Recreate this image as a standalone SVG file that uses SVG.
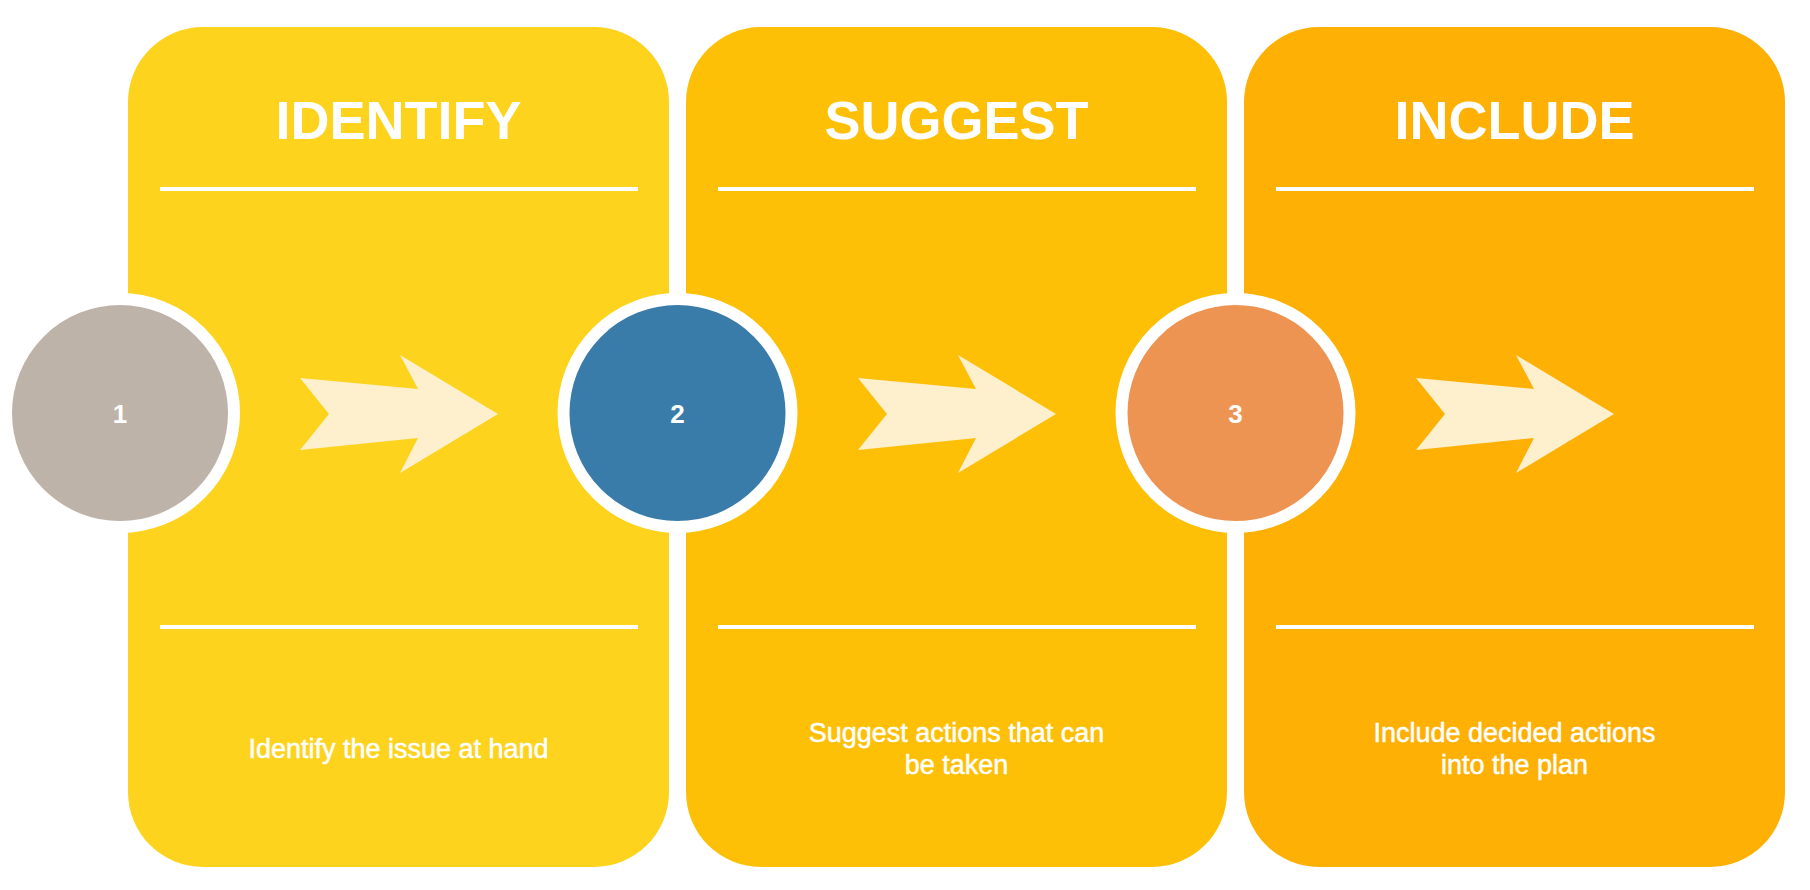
<svg xmlns="http://www.w3.org/2000/svg" width="1810" height="890" viewBox="0 0 1810 890">
<style>
.card{stroke:none}
.rule{stroke:#FFFFFF;stroke-width:4}
.title{font-family:"Liberation Sans",Arial,sans-serif;font-weight:bold;font-size:54px;fill:#FFFFFF;text-anchor:middle}
.body{font-family:"Liberation Sans",Arial,sans-serif;font-size:27px;fill:#FFFFFF;stroke:#FFFFFF;stroke-width:0.5;text-anchor:middle}
.circ{stroke:#FFFFFF;stroke-width:12}
.num{font-family:"Liberation Sans",Arial,sans-serif;font-weight:bold;font-size:26px;fill:#FFFFFF;text-anchor:middle}
.arrow{fill:#FEF0CC}
</style>
<defs>
<path id="chev" d="M300,378 L329,414 L300,450 L418,438 L400,473 L498,414 L400,355 L418,389 Z"/>
</defs>
<rect width="1810" height="890" fill="#FFFFFF"/>
<g id="card-identify">
<rect class="card" x="128" y="27" width="541" height="840" rx="75" ry="75" fill="#FDD31D"/>
<text class="title" x="398.5" y="139">IDENTIFY</text>
<line class="rule" x1="160" y1="189" x2="638" y2="189"/>
<line class="rule" x1="160" y1="627" x2="638" y2="627"/>
<text class="body" x="398.5" y="758">Identify the issue at hand</text>
</g>
<g id="card-suggest">
<rect class="card" x="686" y="27" width="541" height="840" rx="75" ry="75" fill="#FDC007"/>
<text class="title" x="956.5" y="139">SUGGEST</text>
<line class="rule" x1="718" y1="189" x2="1196" y2="189"/>
<line class="rule" x1="718" y1="627" x2="1196" y2="627"/>
<text class="body" x="956.5" y="742">Suggest actions that can</text>
<text class="body" x="956.5" y="774">be taken</text>
</g>
<g id="card-include">
<rect class="card" x="1244" y="27" width="541" height="840" rx="75" ry="75" fill="#FEB004"/>
<text class="title" x="1514.5" y="139">INCLUDE</text>
<line class="rule" x1="1276" y1="189" x2="1754" y2="189"/>
<line class="rule" x1="1276" y1="627" x2="1754" y2="627"/>
<text class="body" x="1514.5" y="742">Include decided actions</text>
<text class="body" x="1514.5" y="774">into the plan</text>
</g>
<g id="connectors">
<use href="#chev" class="arrow"/>
<use href="#chev" class="arrow" transform="translate(558,0)"/>
<use href="#chev" class="arrow" transform="translate(1116,0)"/>
</g>
<g id="step-1">
<circle class="circ" cx="120" cy="413" r="114" fill="#BDB3A9"/>
<text class="num" x="120" y="423">1</text>
</g>
<g id="step-2">
<circle class="circ" cx="677.5" cy="413" r="114" fill="#3A7CA9"/>
<text class="num" x="677.5" y="423">2</text>
</g>
<g id="step-3">
<circle class="circ" cx="1235.5" cy="413" r="114" fill="#EE9453"/>
<text class="num" x="1235.5" y="423">3</text>
</g>
</svg>
